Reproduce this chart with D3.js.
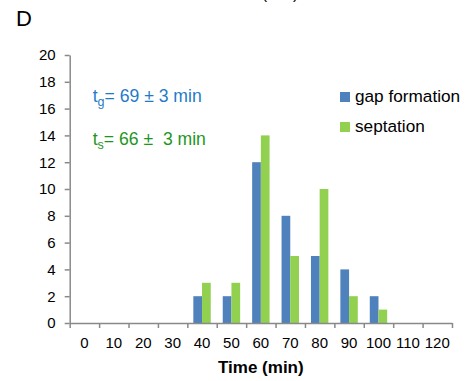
<!DOCTYPE html>
<html>
<head>
<meta charset="utf-8">
<script src="https://cdn.jsdelivr.net/npm/d3@7"></script>
<style>
  body { margin: 0; background: #fff; }
  svg { display: block; font-family: Arial, "Liberation Sans", sans-serif; }
  .axis path, .axis line { stroke: #898989; stroke-width: 1.5; }
  .axis text { fill: #000; font-size: 15px; }
</style>
</head>
<body>
<div id="chart"></div>
<script>
// time bins (min) and counts per bin
const times = [0, 10, 20, 30, 40, 50, 60, 70, 80, 90, 100, 110, 120];
const gapFormation = [0, 0, 0, 0, 2, 2, 12, 8, 5, 4, 2, 0, 0];
const septation = [0, 0, 0, 0, 3, 3, 14, 5, 10, 2, 1, 0, 0];
const seriesNames = ["gap formation", "septation"];
const seriesColors = ["#4F81BD", "#92D050"];
const yTicks = [0, 2, 4, 6, 8, 10, 12, 14, 16, 18, 20];

const W = 476, H = 381;
const margin = { top: 55, left: 69.7, right: 24, bottom: 58 };
const width = W - margin.left - margin.right,
      height = H - margin.top - margin.bottom;

const svg = d3.select("#chart").append("svg")
  .attr("width", W).attr("height", H);

// panel letter and the clipped caption above (cut off in the original too)
svg.append("text").attr("x", 16).attr("y", 26)
  .attr("font-size", 22).text("D");
svg.append("text").attr("x", 280).attr("y", -1)
  .attr("text-anchor", "middle").attr("font-size", 16).text("(min)");

const g = svg.append("g")
  .attr("transform", "translate(" + margin.left + "," + margin.top + ")");

const x = d3.scaleBand().domain(times).range([0, width]).padding(0);
const xInner = d3.scaleBand().domain(seriesNames)
  .range([0, x.bandwidth()]).paddingInner(0).paddingOuter(0.69);
const y = d3.scaleLinear().domain([0, 20]).range([height, 0]);

// bars
const rows = times.map((t, i) => ({ t: t, vals: [gapFormation[i], septation[i]] }));
const grp = g.selectAll(".bin").data(rows).enter().append("g")
  .attr("transform", d => "translate(" + x(d.t) + ",0)");
grp.selectAll("rect")
  .data(d => d.vals.map((v, k) => ({ name: seriesNames[k], v: v, k: k })))
  .enter().append("rect")
  .attr("x", d => xInner(d.name))
  .attr("width", xInner.bandwidth())
  .attr("y", d => y(d.v))
  .attr("height", d => height - y(d.v))
  .attr("fill", d => seriesColors[d.k]);

// y axis
g.append("g").attr("class", "axis")
  .call(d3.axisLeft(y).tickValues(yTicks).tickSize(5).tickPadding(9).tickSizeOuter(0));

// x axis: boundary ticks + centered labels
const xEdge = d3.scaleLinear().domain([-5, 125]).range([0, width]);
g.append("g").attr("class", "axis")
  .attr("transform", "translate(0," + height + ")")
  .call(d3.axisBottom(xEdge).tickValues(d3.range(-5, 126, 10)).tickSize(5)
    .tickSizeOuter(0).tickFormat(""));
const xLab = g.append("g").attr("class", "axis")
  .attr("transform", "translate(0," + height + ")")
  .call(d3.axisBottom(x).tickSize(0).tickPadding(14));
xLab.select(".domain").remove();

// axis title
g.append("text")
  .attr("x", width / 2).attr("y", height + 50)
  .attr("text-anchor", "middle").attr("font-size", 17)
  .attr("font-weight", "bold").text("Time (min)");

// annotations
function note(yPos, sub, rest, color) {
  const t = svg.append("text").attr("x", 92.7).attr("y", yPos)
    .attr("font-size", 17.6).attr("fill", color).style("white-space", "pre");
  t.append("tspan").text("t");
  t.append("tspan").attr("font-size", 12.5).attr("dy", 4).text(sub);
  t.append("tspan").attr("dy", -4).text(rest);
}
note(102, "g", "= 69 ± 3 min", "#1f7bc8");
note(145, "s", "= 66 ±  3 min", "#1e961e");

// legend
const leg = svg.append("g").attr("transform", "translate(340,92)");
seriesNames.forEach((name, i) => {
  leg.append("rect").attr("x", 0).attr("y", i * 30).attr("width", 10).attr("height", 10)
    .attr("fill", seriesColors[i]);
  leg.append("text").attr("x", 15).attr("y", i * 30 + 9.5)
    .attr("font-size", 17.2).text(name);
});
</script>
</body>
</html>
